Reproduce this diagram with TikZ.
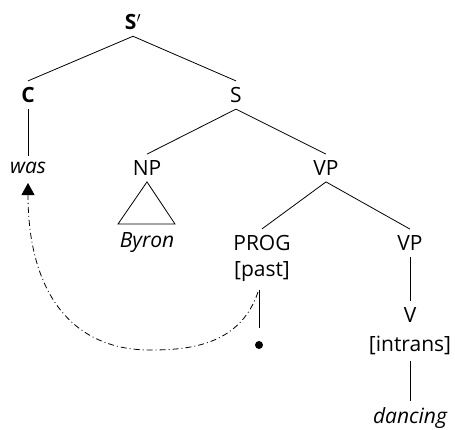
\documentclass[tikz,border=0pt]{standalone}
\usepackage{fontspec}
\setmainfont{Open Sans}
\usetikzlibrary{arrows.meta}

\begin{document}
\begin{tikzpicture}[x=1pt,y=-1pt,line width=0.8pt,
  lab/.style={inner sep=0pt,font=\fontsize{21}{25}\selectfont},
  top/.style={lab,font=\fontsize{21}{25}\selectfont\bfseries},
  leaf/.style={lab,font=\fontsize{21}{25}\selectfont\itshape}]
  \useasboundingbox (0,0) rectangle (455,429);
  \node[top] (Sbar) at (133,22) {S$'$};
  \node[top] (C) at (28,95) {C}; \node[lab] (S) at (236,95) {S};
  \node[leaf] (was) at (28,168) {was};
  \node[lab] (NP) at (147,168) {NP}; \node[lab] (VP) at (326,168) {VP};
  \node[leaf] (Byron) at (147,243) {Byron};
  \node[lab] (PROG) at (262,243) {PROG}; \node[lab] (past) at (262,272) {[past]};
  \node[lab] (VPb) at (410,243) {VP};
  \node[lab] (V) at (410,315) {V}; \node[lab] (intrans) at (410,345) {[intrans]};
  \node[leaf] (dancing) at (410,418) {dancing};
  \coordinate (t) at (259,328);
  \fill (259,345) circle (4pt);
  \foreach \u/\v in {Sbar/C,Sbar/S,S/NP,S/VP,VP/PROG,VP/VPb}
    \draw ([yshift=-6pt]\u.south) -- ([yshift=6pt]\v.north);
  \foreach \u/\v in {C/was,VPb/V,intrans/dancing}
    \draw ([yshift=-6pt]\u.south) -- ([yshift=6pt]\v.north);
  \draw ([yshift=-8pt]past.south -| t) -- (t);
  \draw ([yshift=-6pt]NP.south) -- (118,224) -- (175,224) -- cycle;
  \draw[dash pattern=on 6pt off 3pt on 1pt off 3pt,-{Triangle[width=13pt,length=12pt]}]
    (258,292) .. controls (240,345) and (190,350) .. (150,350)
    .. controls (70,350) and (28,290) .. (28,183);
\end{tikzpicture}
\end{document}
